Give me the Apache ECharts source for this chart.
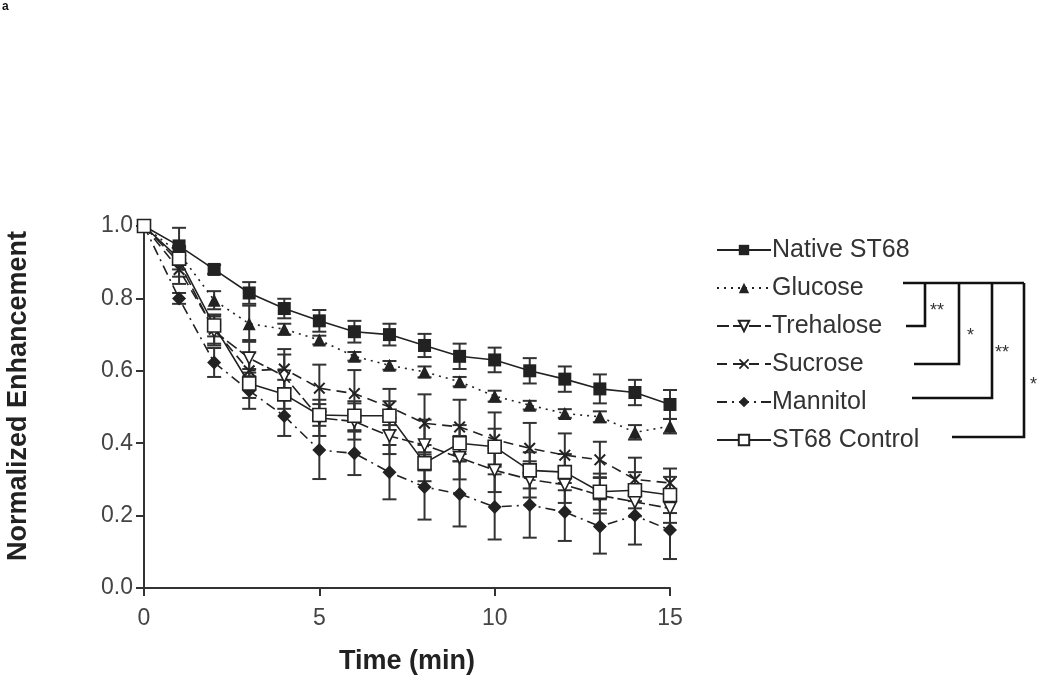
<!DOCTYPE html>
<html>
<head>
<meta charset="utf-8">
<script src="https://cdn.jsdelivr.net/npm/echarts@6/dist/echarts.min.js"></script>
<style>
html,body{margin:0;padding:0;background:#fff;}
#chart{width:1050px;height:682px;}
</style>
</head>
<body>
<div id="chart"></div>
<script>
var time = [0,1,2,3,4,5,6,7,8,9,10,11,12,13,14,15];
var xTicks = [0,5,10,15];
var yTicks = [0.0,0.2,0.4,0.6,0.8,1.0];

var seriesNames = ['Native ST68','Glucose','Trehalose','Sucrose','Mannitol','ST68 Control'];

var native     = [1.0,0.945,0.88,0.815,0.772,0.738,0.708,0.70,0.67,0.64,0.63,0.60,0.577,0.55,0.54,0.507];
var nativeErr  = [0,0.05,0.012,0.03,0.027,0.03,0.03,0.03,0.032,0.035,0.034,0.035,0.035,0.04,0.035,0.04];
var glucose    = [1.0,0.925,0.795,0.73,0.715,0.685,0.64,0.615,0.597,0.57,0.53,0.505,0.482,0.473,0.43,0.447];
var glucoseErr = [0,0.02,0.025,0.05,0.015,0.012,0.012,0.012,0.015,0.013,0.015,0.012,0.012,0.015,0.02,0.02];
var trehalose    = [1.0,0.90,0.71,0.635,0.585,0.47,0.46,0.42,0.395,0.36,0.325,0.30,0.285,0.256,0.238,0.22];
var trehaloseErr = [0,0.04,0.04,0.05,0.06,0.05,0.05,0.05,0.07,0.06,0.06,0.05,0.05,0.05,0.04,0.04];
var sucrose    = [1.0,0.88,0.715,0.60,0.605,0.552,0.537,0.50,0.455,0.445,0.41,0.386,0.367,0.354,0.30,0.29];
var sucroseErr = [0,0.04,0.04,0.05,0.055,0.065,0.065,0.05,0.08,0.075,0.075,0.07,0.06,0.05,0.06,0.04];
var mannitol    = [1.0,0.80,0.623,0.545,0.475,0.381,0.372,0.32,0.279,0.26,0.224,0.229,0.21,0.17,0.20,0.16];
var mannitolErr = [0,0.015,0.04,0.05,0.055,0.08,0.06,0.075,0.09,0.09,0.09,0.09,0.08,0.075,0.08,0.08];
var control    = [1.0,0.91,0.725,0.565,0.535,0.478,0.476,0.476,0.345,0.40,0.39,0.325,0.32,0.266,0.27,0.257];
var controlErr = [0,0.03,0.03,0.04,0.04,0.03,0.04,0.04,0.05,0.05,0.05,0.05,0.05,0.05,0.05,0.05];

var values = [native, glucose, trehalose, sucrose, mannitol, control];
var errors = [nativeErr, glucoseErr, trehaloseErr, sucroseErr, mannitolErr, controlErr];

var INK = '#222';
var crossPath = 'path://M0,1.2L1.2,0L5,3.8L8.8,0L10,1.2L6.2,5L10,8.8L8.8,10L5,6.2L1.2,10L0,8.8L3.8,5Z';
var styles = [
  {symbol:'rect', size:13, fill:INK, type:'solid', rot:0},
  {symbol:'triangle', size:13, fill:INK, type:[2,5], rot:0},
  {symbol:'triangle', size:12, fill:'#fff', type:[12,4], rot:180},
  {symbol:crossPath, size:12, fill:INK, type:[10,6], rot:0},
  {symbol:'diamond', size:14, fill:INK, type:[10,5,2,5], rot:0},
  {symbol:'rect', size:13, fill:'#fff', type:'solid', rot:0}
];

var series = [];
values.forEach(function(vals, i){
  var d = time.map(function(t, k){ return [t, vals[k]-errors[i][k], vals[k]+errors[i][k], errors[i][k]]; });
  series.push({
    type:'custom', name: seriesNames[i]+' err', silent:true, z:2,
    data: d,
    encode:{x:0, y:[1,2]},
    renderItem: function(params, api){
      if (api.value(3) <= 0) return null;
      var x = api.value(0);
      var lo = api.coord([x, api.value(1)]);
      var hi = api.coord([x, api.value(2)]);
      var w = 7;
      var st = {stroke:'#333', lineWidth:2};
      return {type:'group', children:[
        {type:'line', shape:{x1:lo[0],y1:lo[1],x2:hi[0],y2:hi[1]}, style:st},
        {type:'line', shape:{x1:lo[0]-w,y1:lo[1],x2:lo[0]+w,y2:lo[1]}, style:st},
        {type:'line', shape:{x1:hi[0]-w,y1:hi[1],x2:hi[0]+w,y2:hi[1]}, style:st}
      ]};
    }
  });
});
values.forEach(function(vals, i){
  var s = styles[i];
  series.push({
    type:'line', name: seriesNames[i], z:3,
    data: time.map(function(t,k){ return [t, vals[k]]; }),
    symbol: s.symbol, symbolSize: s.size, symbolRotate: s.rot,
    showAllSymbol:true,
    lineStyle:{color:INK, width:1.6, type:s.type},
    itemStyle:{color:s.fill, borderColor:INK, borderWidth: s.fill==='#fff'?1.6:0},
    emphasis:{disabled:true},
    animation:false
  });
});

var chart = echarts.init(document.getElementById('chart'), null, {renderer:'canvas'});
var FONT = 'Liberation Sans, Arial, sans-serif';

var br = {stroke:'#111', lineWidth:2.6};
var graphics = [
  {type:'text', left:2, top:1, style:{text:'a', font:'bold 12px '+FONT, fill:'#111'}},
  {type:'polyline', shape:{points:[[903,283],[1024,283]]}, style:br},
  {type:'polyline', shape:{points:[[906,326],[925,326],[925,283]]}, style:br},
  {type:'polyline', shape:{points:[[914,364],[959,364],[959,283]]}, style:br},
  {type:'polyline', shape:{points:[[912,398],[992,398],[992,283]]}, style:br},
  {type:'polyline', shape:{points:[[952,437],[1024,437],[1024,283]]}, style:br},
  {type:'text', x:930, y:302, style:{text:'**', font:'18px '+FONT, fill:'#333'}},
  {type:'text', x:967, y:327, style:{text:'*', font:'18px '+FONT, fill:'#333'}},
  {type:'text', x:995, y:344, style:{text:'**', font:'18px '+FONT, fill:'#333'}},
  {type:'text', x:1030, y:376, style:{text:'*', font:'18px '+FONT, fill:'#333'}}
];

chart.setOption({
  backgroundColor:'#fff',
  animation:false,
  textStyle:{fontFamily:FONT},
  grid:{left:144, right:380, top:226, bottom:94, containLabel:false, outerBoundsMode:'none'},
  legend:{
    data: seriesNames,
    orient:'vertical', left:711, top:231,
    itemWidth:54, itemHeight:13, itemGap:10,
    textStyle:{fontSize:25, color:'#333', fontFamily:FONT, lineHeight:28, padding:[0,0,0,-4]},
    selectedMode:false
  },
  xAxis:{
    type:'value', min:0, max:15, interval:5,
    name:'Time (min)', nameLocation:'middle', nameGap:60,
    nameTextStyle:{fontSize:27, fontWeight:'bold', color:'#222', fontFamily:FONT},
    axisLine:{lineStyle:{color:'#333', width:2}},
    axisTick:{show:true, length:8, lineStyle:{color:'#333', width:2}},
    axisLabel:{fontSize:23, color:'#444', margin:19, fontFamily:FONT},
    splitLine:{show:false}
  },
  yAxis:{
    type:'value', min:0, max:1.0, interval:0.2,
    name:'Normalized Enhancement', nameLocation:'middle', nameGap:112, nameRotate:90,
    nameTextStyle:{fontSize:27, fontWeight:'bold', color:'#222', fontFamily:FONT, padding:[0,0,0,22]},
    axisLine:{show:true, lineStyle:{color:'#333', width:2}},
    axisTick:{show:true, length:8, lineStyle:{color:'#333', width:2}},
    axisLabel:{fontSize:23, color:'#444', margin:11, fontFamily:FONT,
      formatter:function(v){ return v.toFixed(1); }},
    splitLine:{show:false}
  },
  graphic: graphics,
  series: series
});
</script>
</body>
</html>
